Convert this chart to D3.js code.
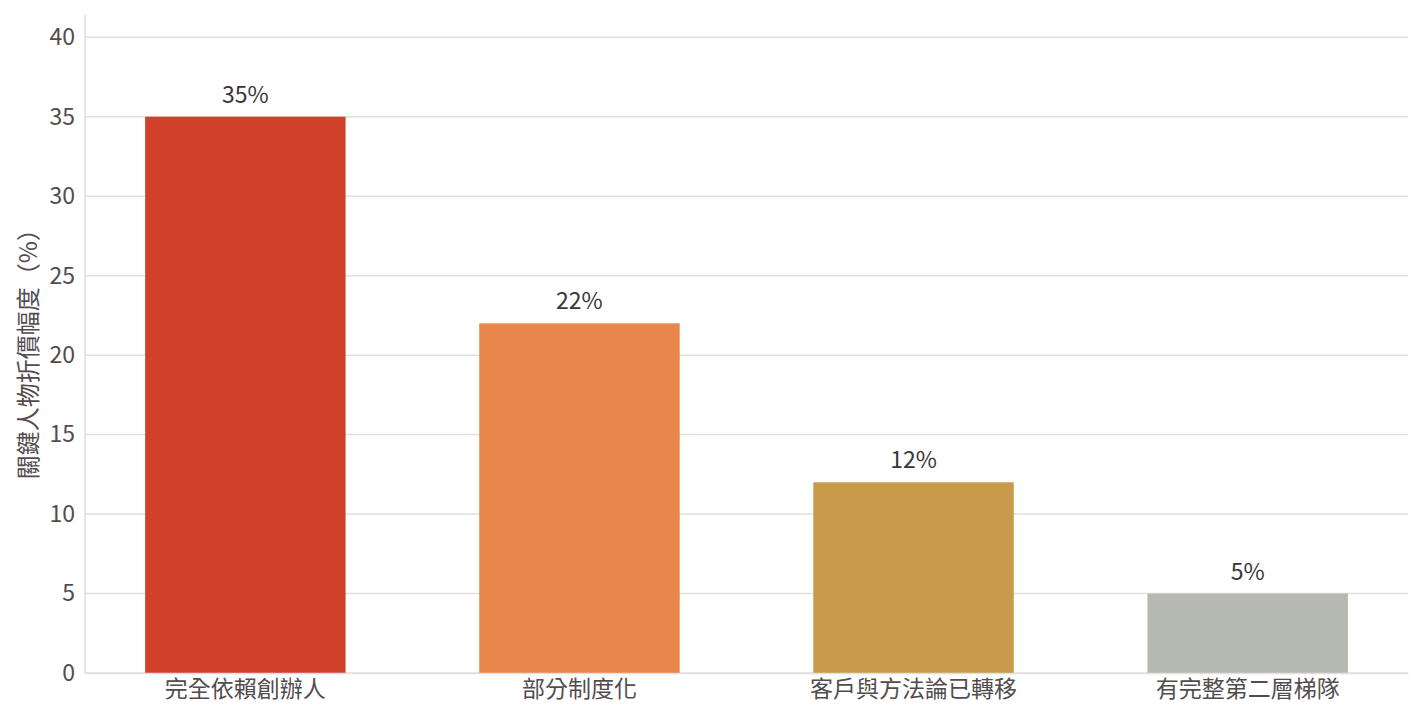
<!DOCTYPE html>
<html>
<head>
<meta charset="utf-8">
<script src="https://cdn.jsdelivr.net/npm/d3@7"></script>
<style>
  body { margin: 0; background: #fff; }
  text { font-family: "Noto Sans CJK TC", "Noto Sans", sans-serif; }
</style>
</head>
<body>
<div id="chart"></div>
<script>
// DATA
// ------------------------------------------------------------------
var categories = ["完全依賴創辦人", "部分制度化", "客戶與方法論已轉移", "有完整第二層梯隊"];
var values = [35, 22, 12, 5];
var colors = ["#d1402a", "#e8864b", "#c89a4b", "#b6b9b2"];
var yTicks = [0, 5, 10, 15, 20, 25, 30, 35, 40];
var yTitle = "關鍵人物折價幅度（%）";

// CANVAS
// ------------------------------------------------------------------
var width = 1423,
    height = 720;

var margin = { top: 15, right: 15, bottom: 47, left: 85 };

var svg = d3.select("#chart")
    .append("svg")
    .attr("width", width)
    .attr("height", height);

// SCALES
// ------------------------------------------------------------------
var xScale = d3.scaleBand()
    .domain(categories)
    .range([margin.left, width - margin.right])
    .paddingInner(0.4)
    .paddingOuter(0.18);

var yScale = d3.scaleLinear()
    .domain([0, 41.4])
    .range([height - margin.bottom, margin.top]);

// GRID
// ------------------------------------------------------------------
svg.append("g")
    .selectAll("line")
    .data(yTicks)
    .enter().append("line")
    .attr("x1", margin.left)
    .attr("x2", width - margin.right)
    .attr("y1", function(d) { return yScale(d); })
    .attr("y2", function(d) { return yScale(d); })
    .attr("stroke", "#e2dfdc")
    .attr("stroke-width", 1.5);

// BARS
// ------------------------------------------------------------------
svg.append("g")
    .selectAll("rect")
    .data(values)
    .enter().append("rect")
    .attr("x", function(d, i) { return xScale(categories[i]); })
    .attr("width", xScale.bandwidth())
    .attr("y", function(d) { return yScale(d); })
    .attr("height", function(d) { return yScale(0) - yScale(d); })
    .attr("fill", function(d, i) { return colors[i]; });

svg.append("g")
    .selectAll("text")
    .data(values)
    .enter().append("text")
    .attr("x", function(d, i) { return xScale(categories[i]) + xScale.bandwidth() / 2; })
    .attr("y", function(d) { return yScale(d) - 14; })
    .attr("text-anchor", "middle")
    .attr("font-size", 23)
    .attr("fill", "#3a3638")
    .text(function(d) { return d + "%"; });

// AXES
// ------------------------------------------------------------------
var yAxis = d3.axisLeft(yScale)
    .tickValues(yTicks)
    .tickSize(0)
    .tickPadding(10);

var gy = svg.append("g")
    .attr("transform", "translate(" + margin.left + ",0)")
    .call(yAxis);
gy.select(".domain")
    .attr("stroke", "#e2dfdc")
    .attr("stroke-width", 1.5)
    .attr("d", "M0," + yScale(0) + "V" + margin.top);
gy.selectAll("text")
    .attr("font-size", 23)
    .attr("fill", "#524c4f")
    .attr("font-family", "'Noto Sans CJK TC', sans-serif");

var xAxis = d3.axisBottom(xScale)
    .tickSize(0)
    .tickPadding(8);

var gx = svg.append("g")
    .attr("transform", "translate(0," + yScale(0) + ")")
    .call(xAxis);
gx.select(".domain")
    .attr("stroke", "#e2dfdc")
    .attr("stroke-width", 1.5);
gx.selectAll("text")
    .attr("font-size", 23)
    .attr("fill", "#524c4f")
    .attr("font-family", "'Noto Sans CJK TC', sans-serif");

// Axis title, nudged up a little to sit like the reference
svg.append("text")
    .attr("transform", "rotate(-90)")
    .attr("x", -(yScale(0) + yScale(40)) / 2 + 7)
    .attr("y", 37)
    .attr("text-anchor", "middle")
    .attr("font-size", 24)
    .attr("fill", "#524c4f")
    .text(yTitle);
</script>
</body>
</html>
